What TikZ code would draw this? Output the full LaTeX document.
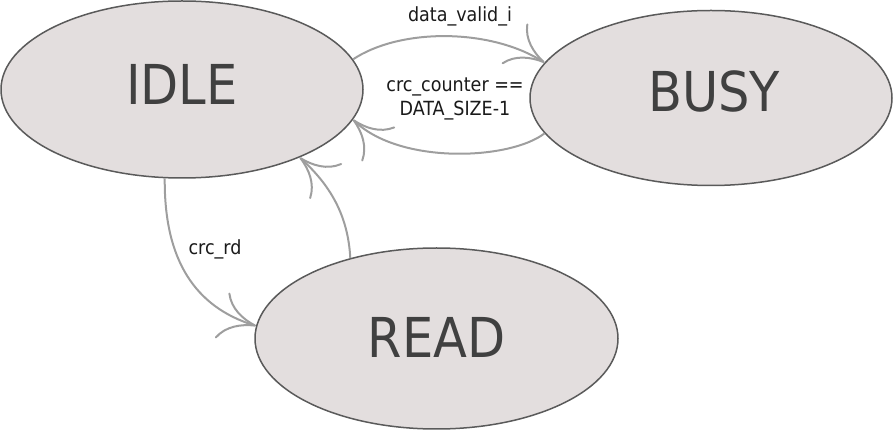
\documentclass[tikz,border=0pt]{standalone}
\usepackage{fontspec}
\setmainfont{DejaVu Sans Condensed}
\usetikzlibrary{arrows.meta,shapes.geometric}
\definecolor{statefill}{HTML}{E3DEDE}
\definecolor{stateline}{HTML}{5A5A5A}
\definecolor{statetext}{HTML}{404040}
\definecolor{edgeline}{HTML}{9E9E9E}
\definecolor{labeltext}{HTML}{1A1A1A}
\tikzset{
  state/.style={draw=stateline,line width=1.5bp,fill=statefill,ellipse,inner sep=0pt,
    text=statetext,font=\fontsize{55bp}{60bp}\selectfont},
  edge/.style={draw=edgeline,line width=2bp,
    -{Computer Modern Rightarrow[length=36bp,width=48bp,line width=2bp]}},
  elabel/.style={text=labeltext,inner sep=0pt,align=center,
    font=\fontsize{19.5bp}{24bp}\selectfont},
}
\begin{document}
\begin{tikzpicture}[line join=bevel,]
    \useasboundingbox (0bp,0bp) rectangle (893bp,431bp);
    %%
    \node (idle) at (182.0bp,341.5bp) [state,minimum width=362bp,minimum height=177bp,text depth=11bp] {IDLE\hspace{18bp}};
    \node (busy) at (711.0bp,333.0bp) [state,minimum width=362bp,minimum height=175bp,text depth=14bp] {\hspace{6bp}BUSY};
    \node (read) at (436.5bp,92.5bp) [state,minimum width=363bp,minimum height=181bp,text depth=3bp] {READ};
    \node (lvalid) at (460.0bp,415.0bp) [elabel] {data\_valid\_i};
    \node (lcount) at (455.0bp,332.0bp) [elabel] {crc\_counter ==\\DATA\_SIZE-1};
    \node (lrd) at (215.0bp,182.0bp) [elabel] {crc\_rd};
    \draw [edge] (idle.10) ..controls (400.0bp,403.0bp) and (490.0bp,403.0bp)  .. (busy.168);
    \draw [edge] (busy.192) ..controls (510.0bp,271.0bp) and (400.0bp,266.0bp)  .. (idle.350);
    \draw [edge] (idle.259) ..controls (164.0bp,171.0bp) and (195.0bp,124.0bp)  .. (read.176);
    \draw [edge] (read.137) ..controls (348.0bp,216.0bp) and (330.0bp,246.0bp)  .. (idle.330);
    %
\end{tikzpicture}
\end{document}
